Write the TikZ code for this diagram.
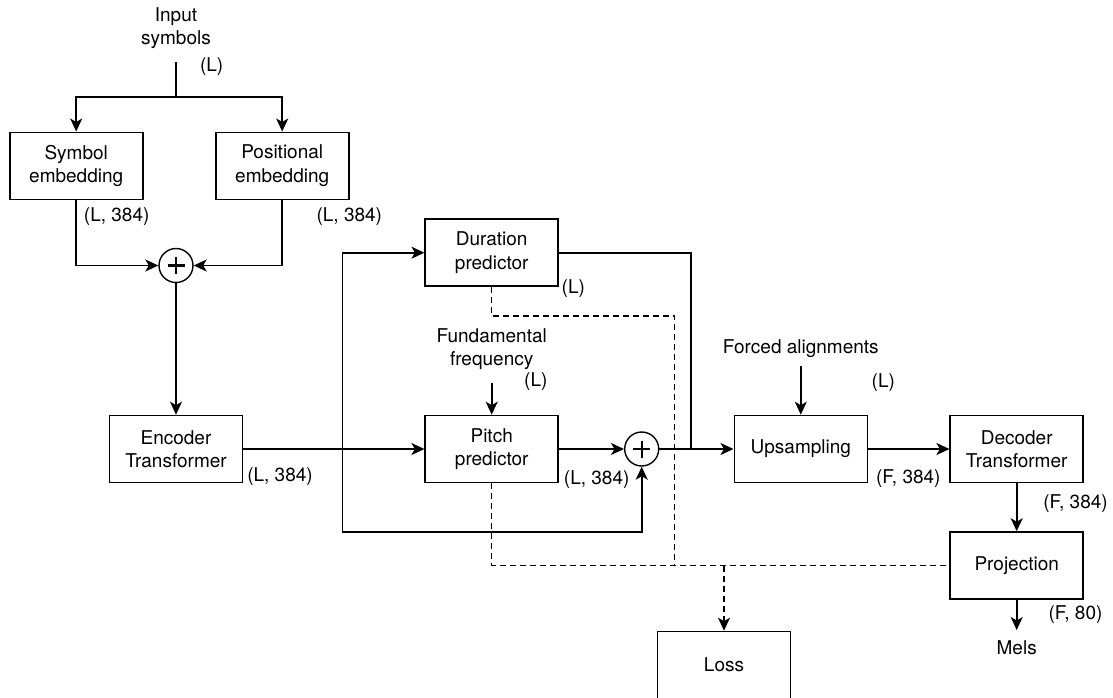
\documentclass[tikz,border=0pt]{standalone}
\usepackage{fontspec}
\setmainfont{TeX Gyre Heros}
\usetikzlibrary{arrows.meta}

\tikzset{
  every node/.style={font=\fontsize{19}{23.5}\selectfont, align=center},
  block/.style={draw, line width=1.6pt, minimum width=133pt, minimum height=67pt, inner sep=0pt},
  adder/.style={draw, circle, line width=1.4pt, minimum size=34pt, inner sep=0pt,
    path picture={
      \draw[line width=2.4pt]
        ([xshift=-8.5pt]path picture bounding box.center) -- ([xshift=8.5pt]path picture bounding box.center)
        ([yshift=-8.5pt]path picture bounding box.center) -- ([yshift=8.5pt]path picture bounding box.center);
    }},
  tip/.style={-{Stealth[length=13pt, width=12pt, inset=3.5pt]}},
  link/.style={line width=1.6pt},
  arr/.style={link, tip},
  dsh/.style={line width=1.4pt, dash pattern=on 6pt off 4pt},
  dim/.style={inner sep=0pt}
}

\begin{document}
\begin{tikzpicture}[x=1pt, y=-1pt]
  \useasboundingbox (0,0) rectangle (1113,697);
  \clip (0,0) rectangle (1113,697);

  % blocks
  \node[block] (sym)  at (76.2,165.8)  {Symbol\\embedding};
  \node[block] (pos)  at (282.2,165.8) {Positional\\embedding};
  \node[adder] (add1) at (176,265.5) {};
  \node[block] (enc)  at (176,449)     {Encoder\\Transformer};
  \node[block] (dur)  at (491.7,252.7) {Duration\\predictor};
  \node[block] (pit)  at (491.7,449)   {Pitch\\predictor};
  \node[adder] (add2) at (641.7,449) {};
  \node[block] (ups)  at (800.8,449)   {Upsampling};
  \node[block] (dec)  at (1016.7,449)  {Decoder\\Transformer};
  \node[block] (proj) at (1016.7,565.5) {Projection};
  \node[block] (loss) at (724,665)     {Loss};

  % free texts
  \node (inp)    at (176,28)     {Input\\symbols};
  \node (f0)     at (491.7,349)  {Fundamental\\frequency};
  \node (forced) at (800.8,349)  {Forced alignments};
  \node (mels)   at (1016.7,647.5) {Mels};

  % helper points
  \coordinate (inTop)  at (176,62);
  \coordinate (split)  at (176,97);
  \coordinate (brk)    at (342.3,449);
  \coordinate (loopB)  at (342.3,531.7);
  \coordinate (durJ)   at (691,449);
  \coordinate (f0Top)  at (491.7,382.7);
  \coordinate (faTop)  at (800.8,366);
  \coordinate (melsTop) at (1016.7,630);
  \coordinate (durD)   at (491.7,316);
  \coordinate (durV)   at (674.3,316);
  \coordinate (durE)   at (674.3,565.5);
  \coordinate (lossJ)  at (724,565.5);

  % solid connectors
  \draw[link] (inTop) -- (split);
  \draw[arr] (split) -| (sym.north);
  \draw[arr] (split) -| (pos.north);
  \draw[arr] (sym.south) |- (add1.west);
  \draw[arr] (pos.south) |- (add1.east);
  \draw[arr] (add1.south) -- (enc.north);
  \draw[arr] (enc.east) -- (pit.west);
  \draw[arr] (brk) |- (dur.west);
  \draw[arr] (brk) -- (loopB) -| (add2.south);
  \draw[arr] (f0Top) -- (pit.north);
  \draw[arr] (pit.east) -- (add2.west);
  \draw[arr] (add2.east) -- (ups.west);
  \draw[link] (dur.east) -| (durJ);
  \draw[arr] (faTop) -- (ups.north);
  \draw[arr] (ups.east) -- (dec.west);
  \draw[arr] (dec.south) -- (proj.north);
  \draw[arr] (proj.south) -- (melsTop);

  % dashed loss paths
  \draw[dsh] (dur.south) -- (durD) -- (durV) -- (durE);
  \draw[dsh] (pit.south) |- (proj.west);
  \draw[dsh, tip] (lossJ) -- (loss.north);

  % shape labels
  \node[dim] (lIn)   at (211.7,67)    {(L)};
  \node[dim] (lSym)  at (116.7,216.7) {(L, 384)};
  \node[dim] (lPos)  at (349.3,216.7) {(L, 384)};
  \node[dim] (lEnc)  at (280,476.7)   {(L, 384)};
  \node[dim] (lDur)  at (573.3,289)   {(L)};
  \node[dim] (lF0)   at (535.8,381.7) {(L)};
  \node[dim] (lPit)  at (596.7,479.3) {(L, 384)};
  \node[dim] (lFa)   at (883.3,382.7) {(L)};
  \node[dim] (lUps)  at (908.3,478.3) {(F, 384)};
  \node[dim] (lDec)  at (1075.5,503.3) {(F, 384)};
  \node[dim] (lProj) at (1075.5,615)  {(F, 80)};
\end{tikzpicture}
\end{document}
